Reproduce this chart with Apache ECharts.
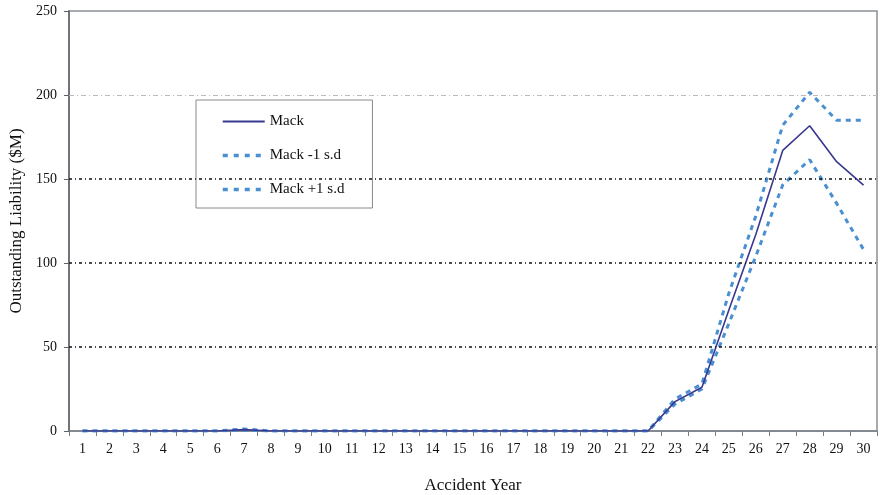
<!DOCTYPE html>
<html>
<head>
<meta charset="utf-8">
<title>Outstanding Liability by Accident Year</title>
<script src="https://cdn.jsdelivr.net/npm/echarts@6/dist/echarts.min.js"></script>
<style>
  html, body { margin: 0; padding: 0; background: #fff; }
  #chart { width: 880px; height: 495px; }
</style>
</head>
<body>
<div id="chart"></div>
<script>
// Accident years 1..30
const accidentYears = Array.from({ length: 30 }, (_, i) => String(i + 1));

// Outstanding liability estimates ($M)
const mack = [0, 0, 0, 0, 0, 0, 0.8, 0, 0, 0, 0, 0, 0, 0, 0, 0, 0, 0, 0, 0, 0,
  0, 17.5, 26, 72, 117, 167, 181.7, 160.3, 146.4];
const mackMinus1sd = [0, 0, 0, 0, 0, 0, 0.5, 0, 0, 0, 0, 0, 0, 0, 0, 0, 0, 0, 0, 0, 0,
  0, 16, 25, 64, 104, 146.5, 161.5, 135.5, 108];
const mackPlus1sd = [0, 0, 0, 0, 0, 0, 1.2, 0, 0, 0, 0, 0, 0, 0, 0, 0, 0, 0, 0, 0, 0,
  0, 19, 28, 82, 128, 182, 201.6, 185, 185];

// Value-axis ticks and the dash-dot reference lines drawn across the plot
const yTicks = [0, 50, 100, 150, 200, 250];
const darkGridValues = [50, 100, 150];
const lightGridValues = [200];

const serif = '"Liberation Serif", "DejaVu Serif", serif';
const solidColor = '#383890';
const dashColor = '#4a8fd0';

const chart = echarts.init(document.getElementById('chart'), null, { renderer: 'canvas' });

const gridLines = [
  ...darkGridValues.map(v => ({ yAxis: v, lineStyle: { color: '#111', type: [3, 3, 1, 3], width: 1.5 } })),
  ...lightGridValues.map(v => ({ yAxis: v, lineStyle: { color: '#bbb', type: [5, 3, 1, 3], width: 1 } }))
];

chart.setOption({
  animation: false,
  backgroundColor: '#fff',
  grid: {
    left: 69, right: 3, top: 11, bottom: 64,
    containLabel: false,
    outerBoundsMode: 'none',
    show: true, borderColor: '#8a9096', borderWidth: 1.5, backgroundColor: 'transparent'
  },
  legend: {
    left: 196, top: 100,
    orient: 'vertical',
    padding: [14, 28, 11, 25],
    itemGap: 19,
    itemWidth: 42,
    itemHeight: 14,
    backgroundColor: '#fff',
    borderColor: '#8a8a8a',
    borderWidth: 1,
    itemStyle: { opacity: 0 },
    textStyle: { fontFamily: serif, fontSize: 15, color: '#111' },
    data: [
      { name: 'Mack', lineStyle: { width: 2 } },
      { name: 'Mack -1 s.d', lineStyle: { width: 3.5, type: [5, 6] } },
      { name: 'Mack +1 s.d', lineStyle: { width: 3.5, type: [5, 6] } }
    ]
  },
  xAxis: {
    type: 'category',
    data: accidentYears,
    boundaryGap: true,
    name: 'Accident Year',
    nameLocation: 'middle',
    nameGap: 46,
    nameTextStyle: { fontFamily: serif, fontSize: 17, color: '#111' },
    axisLine: { lineStyle: { color: '#7a8086', width: 1.5 } },
    axisTick: { show: true, length: 5, lineStyle: { color: '#7a8086' } },
    axisLabel: { fontFamily: serif, fontSize: 14, color: '#111', margin: 11, interval: 0 },
    splitLine: { show: false }
  },
  yAxis: {
    type: 'value',
    min: yTicks[0],
    max: yTicks[yTicks.length - 1],
    interval: yTicks[1] - yTicks[0],
    name: 'Outstanding Liability ($M)',
    nameLocation: 'middle',
    nameGap: 44,
    nameTextStyle: { fontFamily: serif, fontSize: 17, color: '#111' },
    axisLine: { show: true, lineStyle: { color: '#5c6268', width: 1.5 } },
    axisTick: { show: true, length: 5, lineStyle: { color: '#5c6268' } },
    axisLabel: { fontFamily: serif, fontSize: 14, color: '#111', margin: 12 },
    splitLine: { show: false }
  },
  series: [
    {
      name: 'gridlines',
      type: 'line',
      data: [],
      silent: true,
      markLine: { silent: true, symbol: 'none', label: { show: false }, data: gridLines },
      z: 1
    },
    {
      name: 'Mack -1 s.d',
      type: 'line',
      data: mackMinus1sd,
      symbol: 'none',
      lineStyle: { color: dashColor, width: 3, type: [5, 5] },
      itemStyle: { color: dashColor },
      z: 3
    },
    {
      name: 'Mack +1 s.d',
      type: 'line',
      data: mackPlus1sd,
      symbol: 'none',
      lineStyle: { color: dashColor, width: 3, type: [5, 5] },
      itemStyle: { color: dashColor },
      z: 3
    },
    {
      name: 'Mack',
      type: 'line',
      data: mack,
      symbol: 'none',
      lineStyle: { color: solidColor, width: 1.6 },
      itemStyle: { color: solidColor },
      z: 4
    }
  ]
});
</script>
</body>
</html>
